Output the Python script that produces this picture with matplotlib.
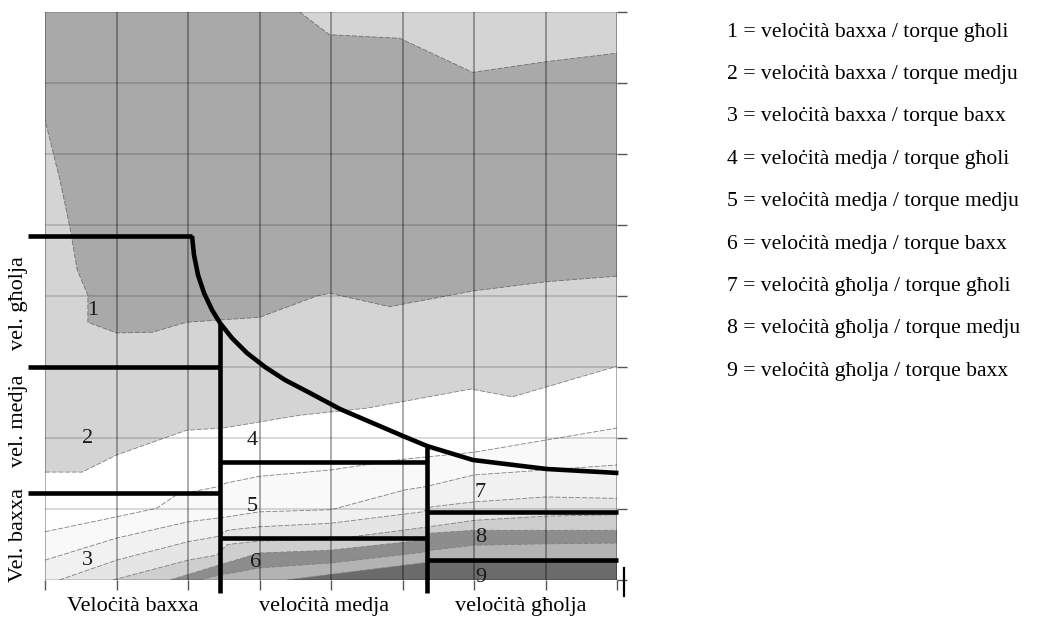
import matplotlib.pyplot as plt
import numpy as np

plt.rcParams['font.family'] = ['Liberation Serif', 'DejaVu Serif']

# żona skura (torque għoli, veloċità baxxa/medja)
dark_top_x = [0, 3.56, 3.98, 4.96, 5.98, 7.01, 8]
dark_top_y = [8, 8, 7.68, 7.63, 7.15, 7.3, 7.42]
dark_bot_x = [8, 7.0, 5.98, 4.82, 3.98, 3.8, 3.0, 2.4, 1.98, 1.5, 1.0, 0.6]
dark_bot_y = [4.28, 4.2, 4.07, 3.85, 4.04, 4.0, 3.7, 3.66, 3.63, 3.49, 3.48, 3.63]
dark_left_x = [0.6, 0.45, 0.35, 0.21, 0.07, 0]
dark_left_y = [4.01, 4.37, 4.96, 5.63, 6.2, 6.48]

# konturi t'isfel (kull wieħed jimla taħtu)
b3_x = [0, 0.52, 1.0, 1.98, 2.49, 3.56, 4.5, 5.96, 6.54, 8]
b3_y = [1.52, 1.52, 1.76, 2.11, 2.14, 2.32, 2.42, 2.69, 2.58, 3.01]
l1_x = [0, 1, 1.56, 1.84, 2.4, 2.55, 3, 4, 5, 6, 7, 8]
l1_y = [0.68, 0.89, 1.01, 1.2, 1.31, 1.37, 1.46, 1.55, 1.7, 1.8, 1.97, 2.14]
l2_x = [0, 1, 2, 2.4, 2.55, 3, 4, 5.04, 5.3, 6, 7, 8]
l2_y = [0.28, 0.59, 0.82, 0.87, 0.89, 0.96, 0.99, 1.27, 1.31, 1.48, 1.55, 1.62]
l3_x = [0.2, 1, 2, 2.4, 2.55, 3, 4, 5.28, 5.4, 6, 7, 8]
l3_y = [0, 0.28, 0.54, 0.61, 0.7, 0.75, 0.8, 0.96, 1.03, 1.1, 1.17, 1.15]
l4_x = [0.95, 2, 2.4, 2.55, 3, 4, 5.3, 6, 7, 8]
l4_y = [0, 0.28, 0.35, 0.5, 0.55, 0.57, 0.74, 0.84, 0.9, 0.92]
l5_x = [1.75, 2.4, 3, 4, 5.28, 5.4, 6, 7, 8]
l5_y = [0, 0.2, 0.38, 0.42, 0.56, 0.66, 0.7, 0.7, 0.7]
l6_x = [2.16, 2.4, 3, 4, 5.28, 5.4, 6, 7, 8]
l6_y = [0, 0.06, 0.17, 0.24, 0.39, 0.42, 0.49, 0.51, 0.52]
l7_x = [3.38, 4, 5.28, 5.4, 6, 7, 8]
l7_y = [0, 0.08, 0.24, 0.26, 0.27, 0.28, 0.29]

bands = [(b3_x, b3_y, '#ffffff'), (l1_x, l1_y, '#f9f9f9'), (l2_x, l2_y, '#f1f1f1'),
         (l3_x, l3_y, '#e5e5e5'), (l4_x, l4_y, '#cecece'), (l5_x, l5_y, '#8d8d8d'),
         (l6_x, l6_y, '#b3b3b3'), (l7_x, l7_y, '#6b6b6b')]

# kurva tal-qawwa kostanti
curve_x = [2.056, 2.084, 2.14, 2.224, 2.336, 2.448, 2.615, 2.825, 3.077, 3.357, 3.706,
           4.126, 4.615, 5.007, 5.343, 5.986, 7.021, 8.02]
curve_y = [4.845, 4.577, 4.296, 4.042, 3.803, 3.62, 3.408, 3.197, 3.0, 2.817, 2.634,
           2.408, 2.197, 2.028, 1.887, 1.69, 1.563, 1.507]

# linji tal-limiti (x0, x1, y) u (x, y0, y1)
h_lines = [(-0.24, 2.056, 4.845), (-0.24, 2.448, 3.0), (-0.24, 2.448, 1.23),
           (2.448, 5.343, 1.66), (2.448, 5.343, 0.59), (5.343, 8.02, 0.96), (5.343, 8.02, 0.28)]
v_lines = [(2.448, -0.18, 3.62), (5.343, -0.18, 1.887)]

zone_nums = ['1', '2', '3', '4', '5', '6', '7', '8', '9']
zone_x = [0.66, 0.6, 0.6, 2.9, 2.9, 2.95, 6.08, 6.1, 6.1]
zone_y = [3.8, 2.0, 0.28, 1.97, 1.03, 0.24, 1.23, 0.6, 0.04]

x_names = ['Veloċità baxxa', 'veloċità medja', 'veloċità għolja']
x_name_pos = [1.23, 3.9, 6.66]
y_names = ['vel. għolja', 'vel. medja', 'Vel. baxxa']
y_name_pos = [3.9, 2.25, 0.63]

legend_lines = ['1 = veloċità baxxa / torque għoli', '2 = veloċità baxxa / torque medju',
                '3 = veloċità baxxa / torque baxx', '4 = veloċità medja / torque għoli',
                '5 = veloċità medja / torque medju', '6 = veloċità medja / torque baxx',
                '7 = veloċità għolja / torque għoli', '8 = veloċità għolja / torque medju',
                '9 = veloċità għolja / torque baxx']

XMAX, YMAX = 8, 8

fig = plt.figure(figsize=(10.37, 6.19), dpi=100)
ax = fig.add_axes([0.0434, 0.063, 0.5516, 0.9176])
ax.set_xlim(0, XMAX)
ax.set_ylim(0, YMAX)
ax.set_facecolor('#d4d4d4')
for s in ax.spines.values():
    s.set_visible(False)

ax.fill(dark_top_x + dark_bot_x + dark_left_x, dark_top_y + dark_bot_y + dark_left_y,
        color='#a9a9a9', lw=0, zorder=1)
ax.plot(dark_top_x[1:], dark_top_y[1:], color='#707070', lw=0.6, ls=(0, (6, 2)), zorder=1.5)
ax.plot(dark_bot_x + dark_left_x, dark_bot_y + dark_left_y, color='#707070', lw=0.6,
        ls=(0, (6, 2)), zorder=1.5)

for bx, by, col in bands:
    px = list(bx) + [XMAX, bx[0]]
    py = list(by) + [0, 0]
    ax.fill(px, py, color=col, lw=0, zorder=1)
for bx, by, col in bands:
    ax.plot(bx, by, color='#808080', lw=0.6, ls=(0, (6, 2)), zorder=1.5)

for i in range(XMAX + 1):
    ax.axvline(i, color='black', alpha=0.35, lw=1.3, zorder=2)
for j in range(YMAX + 1):
    ax.axhline(j, color='black', alpha=0.16, lw=1.3, zorder=2)

ax.set_xticks(range(XMAX + 1))
ax.set_yticks(range(YMAX + 1))
ax.set_xticklabels([])
ax.set_yticklabels([])
ax.yaxis.tick_right()
ax.tick_params(axis='both', length=7, width=1, color='#555555')

lw_thick = 3.3
for x0, x1, y in h_lines:
    ax.plot([x0, x1], [y, y], color='black', lw=lw_thick, clip_on=False, zorder=4,
            solid_capstyle='butt')
for x, y0, y1 in v_lines:
    ax.plot([x, x], [y0, y1], color='black', lw=lw_thick, clip_on=False, zorder=4,
            solid_capstyle='butt')
ax.plot(curve_x, curve_y, color='black', lw=lw_thick, clip_on=False, zorder=4,
        solid_joinstyle='round', solid_capstyle='butt')
ax.plot([8.1, 8.1], [0.17, -0.22], color='black', lw=1.6, clip_on=False, zorder=4)

for t, x, y in zip(zone_nums, zone_x, zone_y):
    ax.text(x, y, t, fontsize=16, ha='center', va='center', color='#1a1a1a', zorder=5)

for t, x in zip(x_names, x_name_pos):
    ax.text(x, -0.37, t, fontsize=16, ha='center', va='center', clip_on=False)
for t, y in zip(y_names, y_name_pos):
    ax.text(-0.37, y, t, fontsize=16, ha='center', va='center', rotation=90, clip_on=False)

for k, t in enumerate(legend_lines):
    fig.text(727 / 1037, 1 - (32 + 42.4 * k) / 619, t, fontsize=15.6, ha='left', va='center')

fig.savefig('out.png', dpi=100)
